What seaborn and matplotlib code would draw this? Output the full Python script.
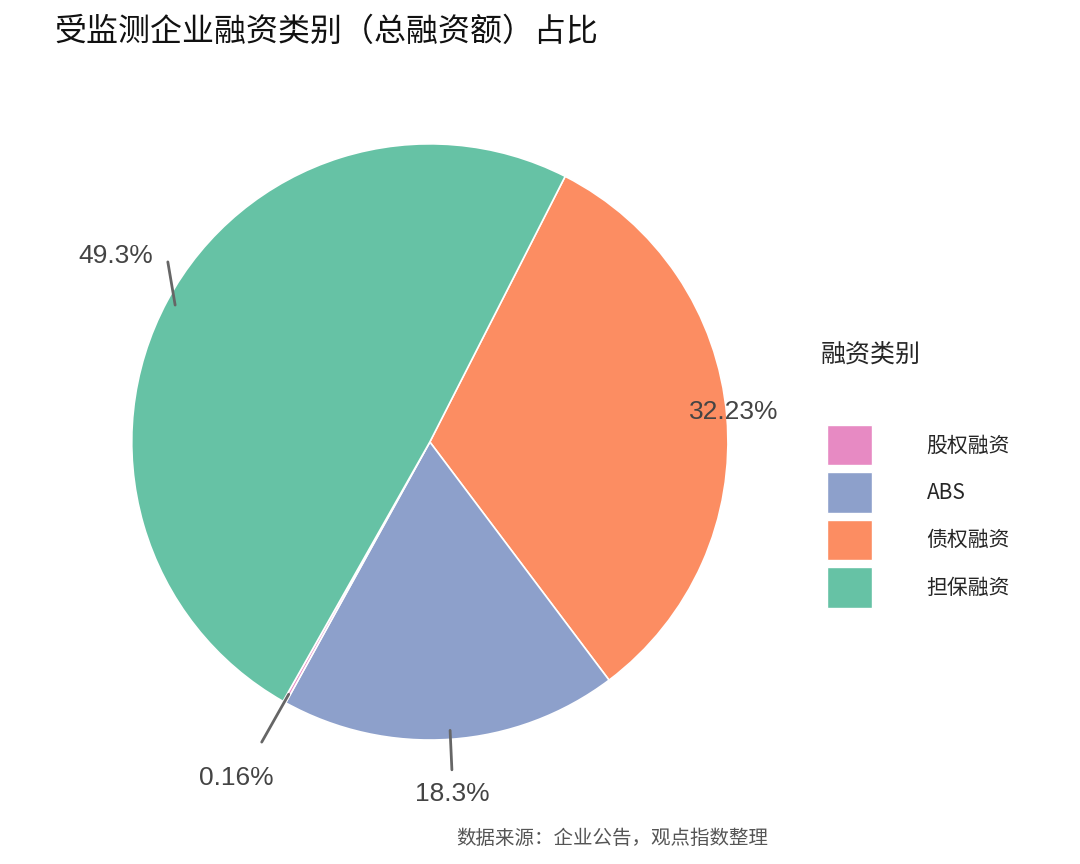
import numpy as np
import matplotlib
matplotlib.use("Agg")
import matplotlib.pyplot as plt
import seaborn as sns

sns.set_theme(style="white")
plt.rcParams['font.family'] = ['Noto Sans CJK SC', 'DejaVu Sans']

categories = ["债权融资", "ABS", "股权融资", "担保融资"]
values = [32.23, 18.3, 0.16, 49.3]
labels = ["32.23%", "18.3%", "0.16%", "49.3%"]
legend_order = ["股权融资", "ABS", "债权融资", "担保融资"]

pal = sns.color_palette("Set2", 4)
colors = {"担保融资": pal[0], "债权融资": pal[1], "ABS": pal[2], "股权融资": pal[3]}
# label placement styles (repelled): line end (x, y) and text (x, y), in axes units
line_end = [None, (0.074, -1.10), (-0.564, -1.007), (-0.879, 0.604)]
text_pos = [(1.02, 0.10), (0.074, -1.18), (-0.648, -1.128), (-1.054, 0.625)]

fig = plt.figure(figsize=(10.8, 8.64), dpi=100)
ax = fig.add_axes([0.122, 0.1435, 0.552, 0.69])
wedges, _ = ax.pie(values, colors=[colors[c] for c in categories], startangle=63,
                   counterclock=False, radius=1.0,
                   wedgeprops=dict(linewidth=1.2, edgecolor="white"))
ax.set_aspect("equal")
ax.set_xlim(-1, 1); ax.set_ylim(-1, 1)

for w, lab, le, tp in zip(wedges, labels, line_end, text_pos):
    ang = np.deg2rad((w.theta1 + w.theta2) / 2)
    c, s = np.cos(ang), np.sin(ang)
    if le is not None:
        ax.plot([0.97 * c, le[0]], [0.97 * s, le[1]], color="#666666", lw=2, clip_on=False)
    ax.text(tp[0], tp[1], lab, ha="center", va="center", fontsize=19, color="#444444",
            family=["Liberation Sans", "Noto Sans CJK SC"])

handles = [plt.Rectangle((0, 0), 1, 1, facecolor=colors[c], edgecolor="white") for c in legend_order]
leg = fig.legend(handles, legend_order, title="融资类别", loc="upper left",
                 bbox_to_anchor=(0.748, 0.568), frameon=False, fontsize=15,
                 title_fontsize=18, handlelength=2.2, handleheight=2.6,
                 handletextpad=2.6, labelspacing=0.34)
leg._legend_box.align = "left"
leg.get_title().set_position((-6, 50))

fig.text(0.05, 0.963, "受监测企业融资类别（总融资额）占比", fontsize=23, color="#111111",
         ha="left", va="center")
fig.text(0.567, 0.03, "数据来源：企业公告，观点指数整理", fontsize=14, color="#555555",
         ha="center", va="center")

fig.savefig("out.png", dpi=100, facecolor="white")
